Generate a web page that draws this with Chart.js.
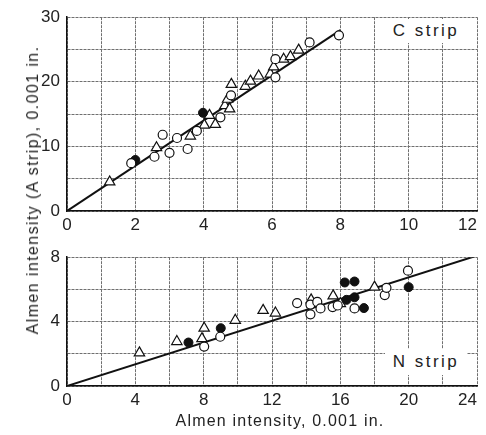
<!DOCTYPE html>
<html>
<head>
<meta charset="utf-8">
<script src="https://cdn.jsdelivr.net/npm/chart.js@4"></script>
<style>
  body { margin:0; background:#fff; width:486px; height:435px; overflow:hidden; position:relative;
         font-family:"Liberation Sans", Arial, sans-serif; color:#222; }
  .box { position:absolute; left:0; width:500px; }
  #topBox { top:0; height:240px; }
  #botBox { top:240px; height:195px; }
  .tag { position:absolute; background:#fff; font-size:17px; letter-spacing:2.5px; text-align:center; }
  .title { position:absolute; white-space:nowrap; font-size:16px; letter-spacing:1.4px; transform:translate(-50%,-50%); }
</style>
</head>
<body>
<div class="box" id="topBox"><canvas id="cChart"></canvas></div>
<div class="box" id="botBox"><canvas id="nChart"></canvas></div>
<div class="tag" style="left:385px;top:19px;width:82px;height:24px;line-height:24px;">C strip</div>
<div class="tag" style="left:385px;top:349px;width:82px;height:26px;line-height:26px;">N strip</div>
<div class="title" style="left:33px;top:190px;transform:translate(-50%,-50%) rotate(-90deg);">Almen intensity (A strip), 0.001 in.</div>
<div class="title" style="left:280px;top:421px;letter-spacing:1.2px;">Almen intensity, 0.001 in.</div>
<script>
// C strip (upper panel)
const cOpen = [[1.88,7.4],[2.56,8.4],[2.8,11.8],[3.0,9.0],[3.22,11.3],[3.53,9.6],[3.8,12.4],
  [4.49,14.5],[4.8,17.9],[6.1,20.7],[6.1,23.5],[7.1,26.1],[7.96,27.2]];
const cFilled = [[2.0,7.9],[3.98,15.2]];
const cTri = [[1.25,4.5],[2.62,9.8],[3.61,11.6],[4.02,13.3],[4.17,14.8],[4.34,13.4],[4.62,16.3],
  [4.7,17.3],[4.76,15.8],[4.81,19.6],[5.22,19.3],[5.37,20.1],[5.61,20.9],[5.95,21.2],[6.05,22.3],
  [6.34,23.5],[6.54,23.9],[6.78,24.9]];
const cFitX = [0, 8];
const cFitY = [0, 28];
const cXTicks = [0, 2, 4, 6, 8, 10, 12];
const cYTicks = [0, 10, 20, 30];

// N strip (lower panel)
const nOpen = [[8.03,2.45],[8.97,3.06],[13.47,5.15],[14.25,5.06],[14.25,4.45],[14.65,5.22],[14.84,4.82],
  [15.55,4.9],[15.85,5.0],[16.83,4.82],[18.6,5.65],[18.7,6.1],[19.96,7.16]];
const nFilled = [[7.11,2.7],[9.0,3.59],[16.26,6.43],[16.83,6.49],[16.36,5.35],[16.83,5.51],[17.38,4.84],[20.0,6.14]];
const nTri = [[4.24,2.06],[6.43,2.76],[7.9,2.94],[8.03,3.59],[9.85,4.08],[11.48,4.7],[12.2,4.53],
  [14.29,5.35],[15.58,5.6],[16.0,5.12],[18.0,6.14]];
const nFitX = [0, 24];
const nFitY = [0, 8.1];
const nXTicks = [0, 4, 8, 12, 16, 20, 24];
const nYTicks = [0, 4, 8];

const ink = '#111';
const tickFont = { family: '"Liberation Sans", Arial, sans-serif', size: 17 };

function pts(arr) { return arr.map(p => ({ x: p[0], y: p[1] })); }
function fit(xs, ys) { return xs.map((x, i) => ({ x: x, y: ys[i] })); }

function makeChart(id, sets, xMax, xStep, xTicks, yMax, yStep, yTicks, padTop, xAxisH) {
  return new Chart(document.getElementById(id), {
    type: 'scatter',
    data: {
      datasets: [
        { data: pts(sets.open), pointStyle: 'circle', pointRadius: 4.5, backgroundColor: '#fff', borderColor: ink, borderWidth: 1.2 },
        { data: pts(sets.filled), pointStyle: 'circle', pointRadius: 4.5, backgroundColor: ink, borderColor: ink, borderWidth: 1 },
        { data: pts(sets.tri), pointStyle: 'triangle', pointRadius: 6, backgroundColor: '#fff', borderColor: ink, borderWidth: 1.2 },
        { data: fit(sets.fx, sets.fy), showLine: true, pointRadius: 0, borderColor: ink, borderWidth: 2, order: 1 }
      ]
    },
    options: {
      responsive: true,
      maintainAspectRatio: false,
      animation: false,
      layout: { padding: { top: padTop, right: 23, left: 0, bottom: 0 } },
      plugins: { legend: { display: false }, tooltip: { enabled: false } },
      scales: {
        x: {
          type: 'linear', min: 0, max: xMax,
          ticks: { stepSize: xStep, autoSkip: false, maxRotation: 0, color: '#222', font: tickFont, padding: 4,
            callback: v => xTicks.includes(v) ? String(v) + (v === xMax ? '    ' : '') : ' ' },
          grid: { display: true, color: '#6f6f6f', lineWidth: 1, tickLength: 0 },
          border: { color: ink, width: 1.5, dash: [3, 1] },
          afterFit: s => { s.height = xAxisH; }
        },
        y: {
          type: 'linear', min: 0, max: yMax,
          ticks: { stepSize: yStep, autoSkip: false, color: '#222', font: tickFont, padding: 7,
            callback: v => yTicks.includes(v) ? String(v) : ' ' },
          grid: { display: true, color: '#6f6f6f', lineWidth: 1, tickLength: 0 },
          border: { color: ink, width: 1.5, dash: [3, 1] },
          afterFit: s => { s.width = 67; }
        }
      }
    }
  });
}

makeChart('cChart', { open: cOpen, filled: cFilled, tri: cTri, fx: cFitX, fy: cFitY },
  12, 1, cXTicks, 30, 5, cYTicks, 7, 29);
makeChart('nChart', { open: nOpen, filled: nFilled, tri: nTri, fx: nFitX, fy: nFitY },
  24, 2, nXTicks, 8, 2, nYTicks, 10, 49);
</script>
</body>
</html>
